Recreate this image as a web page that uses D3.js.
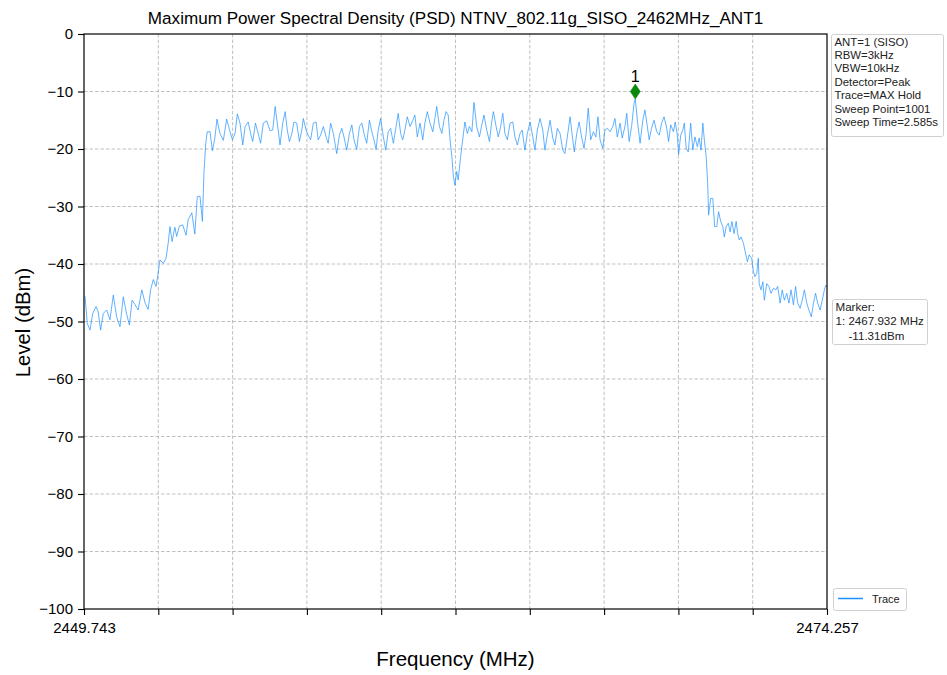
<!DOCTYPE html>
<html><head><meta charset="utf-8">
<script src="https://cdn.jsdelivr.net/npm/d3@7"></script>
<style>
body{margin:0;background:#fff}
svg{font-family:"Liberation Sans",Arial,Helvetica,sans-serif}
</style>
</head><body>
<svg id="chart" width="947" height="675"></svg>
<script>
// ---------------- data ----------------
const titleText = "Maximum Power Spectral Density (PSD) NTNV_802.11g_SISO_2462MHz_ANT1";
const freqs = [
2449.743,2449.78,2449.85,2449.94,2450.03,2450.14,2450.21,2450.29,2450.38,2450.49,
2450.60,2450.71,2450.82,2450.93,2451.04,2451.15,2451.24,2451.33,2451.43,2451.53,
2451.65,2451.76,2451.86,2451.94,2452.03,2452.12,2452.18,2452.25,2452.36,2452.45,
2452.52,2452.58,2452.65,2452.74,2452.80,2452.89,2453.00,2453.11,2453.18,2453.30,
2453.40,2453.48,2453.57,2453.65,2453.70,2453.76,2453.81,2453.90,2453.98,2454.06,
2454.13,2454.23,2454.34,2454.45,2454.54,2454.64,2454.73,2454.80,2454.89,2454.98,
2455.06,2455.16,2455.24,2455.31,2455.40,2455.49,2455.57,2455.66,2455.77,2455.88,
2455.97,2456.05,2456.12,2456.21,2456.30,2456.38,2456.45,2456.52,2456.60,2456.67,
2456.76,2456.85,2456.93,2456.98,2457.07,2457.14,2457.22,2457.31,2457.40,2457.47,
2457.55,2457.64,2457.73,2457.80,2457.88,2457.97,2458.08,2458.17,2458.25,2458.32,
2458.41,2458.50,2458.58,2458.65,2458.74,2458.83,2458.91,2458.98,2459.07,2459.16,
2459.24,2459.31,2459.38,2459.45,2459.53,2459.62,2459.70,2459.78,2459.86,2459.95,
2460.04,2460.11,2460.19,2460.26,2460.33,2460.41,2460.50,2460.59,2460.66,2460.74,
2460.83,2460.92,2460.99,2461.07,2461.16,2461.25,2461.32,2461.38,2461.47,2461.55,
2461.62,2461.69,2461.76,2461.82,2461.88,2461.93,2461.98,2462.04,2462.09,2462.17,
2462.31,2462.39,2462.46,2462.54,2462.61,2462.70,2462.79,2462.87,2462.94,2463.03,
2463.12,2463.19,2463.25,2463.34,2463.41,2463.49,2463.56,2463.63,2463.71,2463.80,
2463.89,2463.96,2464.04,2464.13,2464.20,2464.29,2464.37,2464.46,2464.55,2464.62,
2464.70,2464.79,2464.88,2464.95,2465.03,2465.12,2465.21,2465.28,2465.36,2465.45,
2465.54,2465.61,2465.69,2465.78,2465.85,2465.92,2466.00,2466.08,2466.16,2466.24,
2466.31,2466.38,2466.46,2466.55,2466.63,2466.70,2466.77,2466.86,2466.93,2467.01,
2467.10,2467.19,2467.26,2467.34,2467.43,2467.50,2467.59,2467.65,2467.73,2467.81,
2467.89,2467.932,2468.01,2468.09,2468.18,2468.25,2468.33,2468.39,2468.47,2468.55,
2468.64,2468.72,2468.80,2468.88,2468.97,2469.03,2469.10,2469.19,2469.25,2469.32,
2469.36,2469.43,2469.50,2469.55,2469.61,2469.68,2469.76,2469.83,2469.90,2469.98,
2470.04,2470.10,2470.16,2470.21,2470.27,2470.32,2470.35,2470.42,2470.49,2470.55,
2470.62,2470.68,2470.75,2470.82,2470.87,2470.93,2471.00,2471.06,2471.12,2471.19,
2471.26,2471.31,2471.36,2471.42,2471.50,2471.56,2471.63,2471.69,2471.77,2471.83,
2471.88,2471.94,2471.99,2472.02,2472.08,2472.14,2472.19,2472.27,2472.34,2472.41,
2472.49,2472.57,2472.63,2472.71,2472.78,2472.85,2472.93,2473.00,2473.07,2473.15,
2473.22,2473.29,2473.37,2473.44,2473.51,2473.59,2473.66,2473.74,2473.81,2473.88,
2473.95,2474.03,2474.10,2474.17,2474.22,2474.257
];
const levels = [
-45.5,-45.7,-50.3,-51.5,-48.6,-47.4,-48.3,-51.5,-48.6,-48.0,
-49.7,-45.4,-49.2,-50.9,-45.7,-48.7,-50.6,-46.3,-47.1,-48.0,
-44.5,-46.8,-47.9,-44.5,-42.7,-43.9,-41.9,-39.3,-39.9,-39.0,
-36.4,-33.5,-36.1,-33.6,-35.2,-33.4,-33.2,-35.0,-32.3,-31.1,
-34.8,-28.3,-28.2,-32.6,-24.2,-19.0,-17.0,-17.0,-20.3,-18.1,
-14.8,-17.3,-18.5,-14.8,-16.6,-18.4,-17.2,-13.9,-15.5,-19.3,
-16.1,-15.3,-17.3,-18.7,-15.5,-17.3,-19.0,-15.5,-15.1,-16.8,
-16.7,-12.6,-15.5,-19.3,-15.5,-13.5,-16.7,-18.7,-17.3,-15.3,
-15.5,-18.7,-16.7,-14.7,-16.7,-17.6,-18.4,-15.5,-15.3,-18.4,
-17.6,-16.1,-17.9,-19.0,-15.5,-17.3,-20.8,-17.6,-16.4,-17.9,
-20.2,-17.3,-15.8,-18.4,-20.1,-16.1,-15.5,-17.3,-19.0,-15.0,
-17.0,-18.4,-20.1,-16.7,-14.7,-17.9,-20.2,-17.0,-16.4,-19.0,
-16.1,-13.8,-17.3,-18.4,-16.7,-14.4,-16.1,-15.0,-14.1,-17.9,
-15.5,-18.4,-15.5,-13.5,-15.5,-17.0,-14.7,-12.6,-16.1,-17.3,
-15.0,-13.5,-14.1,-18.4,-21.3,-24.8,-26.3,-23.9,-25.4,-21.3,
-15.3,-17.3,-16.1,-17.0,-11.9,-16.1,-17.9,-15.8,-14.1,-16.7,
-18.7,-15.5,-13.5,-16.1,-17.9,-16.1,-13.8,-17.3,-18.4,-15.5,
-15.3,-17.9,-19.3,-17.3,-16.7,-20.2,-17.3,-15.3,-17.9,-20.2,
-16.7,-14.7,-16.7,-20.2,-17.6,-15.0,-18.1,-19.3,-16.4,-17.3,
-20.2,-20.8,-17.9,-14.4,-17.6,-20.5,-17.3,-15.3,-17.9,-19.9,
-17.3,-12.9,-18.4,-17.0,-17.9,-14.4,-18.4,-19.9,-16.7,-16.4,
-17.0,-16.1,-14.7,-17.9,-15.5,-18.1,-16.1,-13.8,-18.7,-16.1,
-12.1,-11.31,-15.5,-19.0,-15.0,-13.2,-16.1,-18.4,-16.4,-15.0,
-17.0,-17.6,-15.5,-14.4,-16.4,-18.7,-15.8,-17.0,-15.3,-17.6,
-21.0,-17.6,-16.7,-15.5,-19.9,-20.5,-15.5,-20.2,-17.9,-19.6,
-18.1,-20.2,-15.5,-18.4,-21.3,-26.0,-31.5,-28.6,-28.6,-33.5,
-33.5,-30.9,-32.6,-33.5,-35.3,-33.5,-32.9,-34.4,-32.6,-34.7,
-32.6,-34.7,-35.8,-35.3,-36.4,-37.9,-39.6,-38.4,-39.0,-41.3,
-42.2,-41.6,-39.0,-43.4,-44.5,-43.1,-46.3,-43.4,-43.9,-45.1,
-44.2,-44.5,-43.9,-46.8,-44.5,-46.3,-45.1,-46.8,-44.5,-47.1,
-43.9,-46.8,-47.7,-46.3,-44.5,-46.8,-48.0,-49.2,-46.8,-45.1,
-46.8,-48.0,-46.3,-44.5,-43.7,-44.0
];
const yTickValues = [0,-10,-20,-30,-40,-50,-60,-70,-80,-90,-100];
const xTickValues = [2449.743,2452.1944,2454.6458,2457.0972,2459.5486,2462.0,2464.4514,2466.9028,2469.3542,2471.8056,2474.257];
const xTickLabels = ["2449.743","","","","","","","","","","2474.257"];
const infoLines = ["ANT=1 (SISO)","RBW=3kHz","VBW=10kHz","Detector=Peak","Trace=MAX Hold","Sweep Point=1001","Sweep Time=2.585s"];
const markerFreq = 2467.932;
const markerLevel = -11.31;
const markerLines = ["Marker:","1: 2467.932 MHz","-11.31dBm"];
const legendLabel = "Trace";

// ---------------- layout ----------------
const svg = d3.select("#chart");
const M = {left:84, right:827, top:34, bottom:609};
const x = d3.scaleLinear().domain([2449.743, 2474.257]).range([M.left, M.right]);
const y = d3.scaleLinear().domain([-100, 0]).range([M.bottom, M.top]);
const traceColor = "#1e90ff";

// grid
const grid = svg.append("g");
grid.selectAll("line.h").data(yTickValues.filter(v => v > -100 && v < 0)).enter().append("line")
  .attr("x1", M.left).attr("x2", M.right).attr("y1", d => y(d)).attr("y2", d => y(d))
  .attr("stroke", "#b0b0b0").attr("stroke-width", 0.8).attr("stroke-dasharray", "3.5,2");
grid.selectAll("line.v").data(xTickValues.slice(1, -1)).enter().append("line")
  .attr("x1", d => x(d)).attr("x2", d => x(d)).attr("y1", M.top).attr("y2", M.bottom)
  .attr("stroke", "#b0b0b0").attr("stroke-width", 0.8).attr("stroke-dasharray", "3.5,2");

// trace
const pts = freqs.map((f, i) => [f, levels[i]]);
svg.append("path").datum(pts)
  .attr("fill", "none").attr("stroke", traceColor).attr("stroke-width", 0.7)
  .attr("stroke-linejoin", "round")
  .attr("d", d3.line().x(d => x(d[0])).y(d => y(d[1])));

// frame
svg.append("rect").attr("x", M.left).attr("y", M.top)
  .attr("width", M.right - M.left).attr("height", M.bottom - M.top)
  .attr("fill", "none").attr("stroke", "#000").attr("stroke-width", 1.2);

// axes
const yAxis = svg.append("g").attr("transform", `translate(${M.left},0)`)
  .call(d3.axisLeft(y).tickValues(yTickValues).tickSize(6).tickPadding(5).tickFormat(d3.format("d")));
const xAxis = svg.append("g").attr("transform", `translate(0,${M.bottom})`)
  .call(d3.axisBottom(x).tickValues(xTickValues).tickSize(6).tickPadding(7)
    .tickFormat((d, i) => xTickLabels[i]));
[yAxis, xAxis].forEach(a => {
  a.select(".domain").remove();
  a.selectAll(".tick line").attr("stroke", "#000").attr("stroke-width", 1.1);
  a.selectAll(".tick text").attr("fill", "#000").style("font-size", "15px")
    .style("font-family", '"Liberation Sans",Arial,sans-serif');
});

// title and axis labels
svg.append("text").attr("x", (M.left + M.right) / 2).attr("y", 24)
  .attr("text-anchor", "middle").style("font-size", "17.1px").text(titleText);
svg.append("text").attr("x", (M.left + M.right) / 2).attr("y", 666)
  .attr("text-anchor", "middle").style("font-size", "20.5px").text("Frequency (MHz)");
svg.append("text").attr("transform", `translate(30,${(M.top + M.bottom) / 2 + 1}) rotate(-90)`)
  .attr("text-anchor", "middle").style("font-size", "20.3px").text("Level (dBm)");

// marker
const mx = x(markerFreq), my = y(markerLevel);
svg.append("path")
  .attr("d", `M${mx},${my} L${mx - 5},${my - 7.5} L${mx},${my - 15} L${mx + 5},${my - 7.5} Z`)
  .attr("fill", "#0a8a0a").attr("stroke", "#0a7a0a").attr("stroke-width", 0.5);
svg.append("text").attr("x", mx).attr("y", my - 17).attr("text-anchor", "middle")
  .style("font-size", "16px").text("1");

// info box
const info = svg.append("g");
info.append("rect").attr("x", 831.5).attr("y", 34.5).attr("width", 112).attr("height", 102)
  .attr("rx", 2).attr("fill", "#fff").attr("stroke", "#d0d0d0");
info.selectAll("text").data(infoLines).enter().append("text")
  .attr("x", 834.5).attr("y", (d, i) => 45.5 + i * 13.4)
  .style("font-size", "11.4px").attr("fill", "#222").text(d => d);

// marker box
const mb = svg.append("g");
mb.append("rect").attr("x", 832.5).attr("y", 299.5).attr("width", 95).attr("height", 45)
  .attr("rx", 2).attr("fill", "#fff").attr("stroke", "#d0d0d0");
mb.selectAll("text").data(markerLines).enter().append("text")
  .attr("x", (d, i) => i === 2 ? 848.5 : 835.5).attr("y", (d, i) => 310.5 + i * 14.5)
  .style("font-size", "11.6px").attr("fill", "#222").text(d => d);

// legend
const lg = svg.append("g");
lg.append("rect").attr("x", 833.5).attr("y", 588.5).attr("width", 73).attr("height", 22)
  .attr("rx", 2).attr("fill", "#fff").attr("stroke", "#d0d0d0");
lg.append("line").attr("x1", 838).attr("x2", 863).attr("y1", 598.5).attr("y2", 598.5)
  .attr("stroke", traceColor).attr("stroke-width", 1.5);
lg.append("text").attr("x", 872).attr("y", 603).style("font-size", "11px").attr("fill", "#222").text(legendLabel);
</script>
</body></html>
